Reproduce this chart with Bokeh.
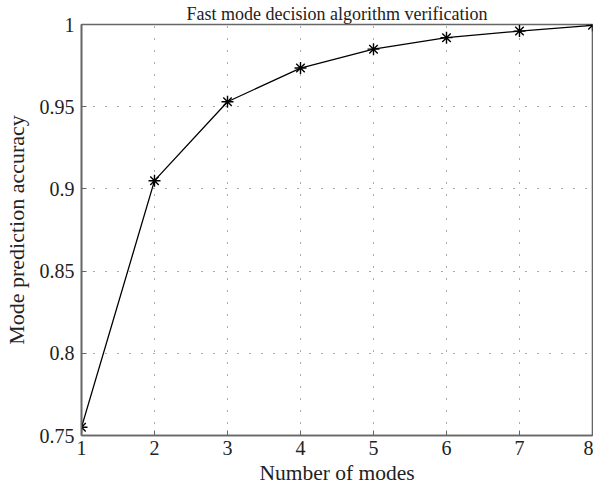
from bokeh.plotting import figure
from bokeh.models import FixedTicker, Range1d
from bokeh.embed import file_html
from bokeh.resources import INLINE

# data
modes = [1, 2, 3, 4, 5, 6, 7, 8]
accuracy = [0.755, 0.905, 0.953, 0.9735, 0.985, 0.992, 0.996, 0.9995]
x_ticks = [1, 2, 3, 4, 5, 6, 7, 8]
y_ticks = [0.75, 0.8, 0.85, 0.9, 0.95, 1.0]
y_tick_labels = ["0.75", "0.8", "0.85", "0.9", "0.95", "1"]
title_text = "Fast mode decision algorithm verification"
x_label = "Number of modes"
y_label = "Mode prediction accuracy"

FONT = "Liberation Serif"

p = figure(width=593, height=487, output_backend="svg", toolbar_location=None,
           x_range=Range1d(1, 8), y_range=Range1d(0.75, 1.0),
           min_border_left=74, min_border_right=1, min_border_top=18, min_border_bottom=50,
           title=title_text)

p.title.align = "center"
p.title.text_font = FONT
p.title.text_font_style = "normal"
p.title.text_font_size = "18px"
p.title.text_color = "#222222"
p.title.standoff = 2

p.line(modes, accuracy, line_color="black", line_width=1.3)
p.scatter(modes, accuracy, marker="asterisk", size=12, line_color="black", line_width=1.4)

for ax in (p.xaxis, p.yaxis):
    ax.axis_line_color = "#666666"
    ax.axis_line_width = 1.6
    ax.major_tick_line_color = "#666666"
    ax.major_tick_in = 5
    ax.major_tick_out = 0
    ax.minor_tick_line_color = None
    ax.major_label_text_font = FONT
    ax.major_label_text_font_size = "20px"
    ax.major_label_text_color = "#222222"
    ax.axis_label_text_font = FONT
    ax.axis_label_text_font_style = "normal"
    ax.axis_label_text_color = "#222222"

p.xaxis.axis_label_text_font_size = "21.5px"
p.yaxis.axis_label_text_font_size = "22px"
p.xaxis.ticker = FixedTicker(ticks=x_ticks)
p.yaxis.ticker = FixedTicker(ticks=y_ticks)
p.yaxis.major_label_overrides = {t: l for t, l in zip(y_ticks, y_tick_labels)}
p.xaxis.axis_label = x_label
p.yaxis.axis_label = y_label
p.xaxis.major_label_standoff = 5
p.yaxis.major_label_standoff = 7
p.xaxis.axis_label_standoff = 3
p.yaxis.axis_label_standoff = 8

p.outline_line_color = "#666666"
p.outline_line_width = 1.6

for g in (p.xgrid, p.ygrid):
    g.grid_line_color = "#555555"
    g.grid_line_dash = "1 11"
    g.grid_line_width = 1

p.background_fill_color = "white"
p.border_fill_color = "white"

open("out.html", "w").write(file_html(p, INLINE))
